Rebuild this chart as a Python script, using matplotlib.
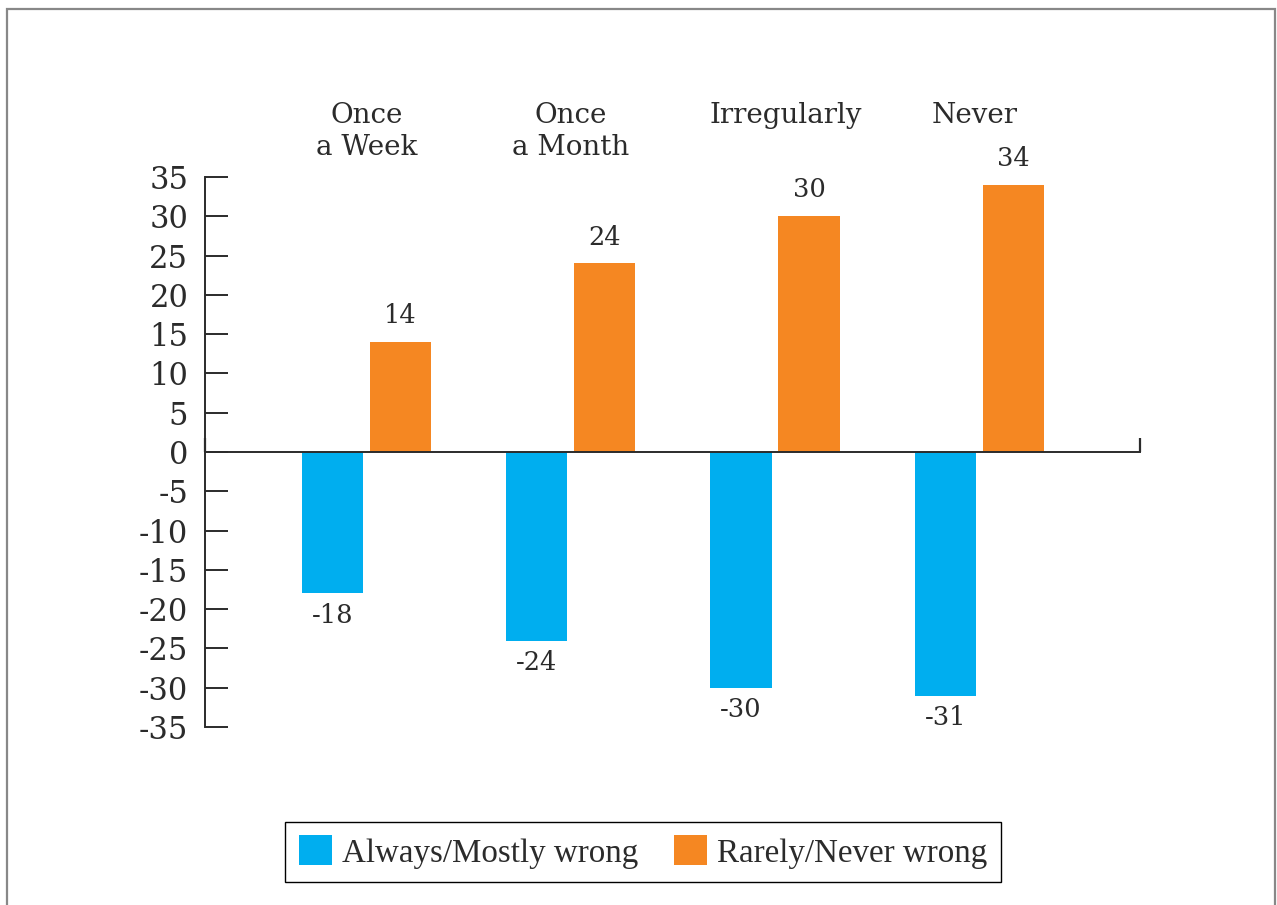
import numpy as np
import matplotlib
matplotlib.use("Agg")
import matplotlib.pyplot as plt
from matplotlib.patches import Rectangle

# Data
categories = ["Once\na Week", "Once\na Month", "Irregularly", "Never"]
always_wrong = [-18, -24, -30, -31]
rarely_wrong = [14, 24, 30, 34]
series_names = ["Always/Mostly wrong", "Rarely/Never wrong"]
y_ticks = list(range(-35, 40, 5))

blue = "#00AEEF"
orange = "#F58722"
ink = "#2b2b2b"

plt.rcParams["axes.unicode_minus"] = False
plt.rcParams["font.family"] = ["DejaVu Serif"]

fig = plt.figure(figsize=(12.77, 9.05), dpi=100)
ax = fig.add_axes([0.1605, 0.1967, 0.7322, 0.6077])

x = np.arange(len(categories))
w = 0.30
off = 0.1664
b1 = ax.bar(x - off, always_wrong, w, color=blue, label=series_names[0])
b2 = ax.bar(x + off, rarely_wrong, w, color=orange, label=series_names[1])

# value labels
for rect, v in zip(b1, always_wrong):
    ax.annotate(str(v), (rect.get_x() + rect.get_width() / 2, v),
                xytext=(0, -16), textcoords="offset points",
                ha="center", va="center", fontsize=18.5, color=ink)
for rect, v in zip(b2, rarely_wrong):
    ax.annotate(str(v), (rect.get_x() + rect.get_width() / 2, v),
                xytext=(0, 19), textcoords="offset points",
                ha="center", va="center", fontsize=18.5, color=ink)

# category labels across the top (small nudges as in the original)
label_nudge = [0.0, 0.0, 0.05, -0.025]
for i, c in enumerate(categories):
    ax.text(i + label_nudge[i], 44.6, c, ha="center", va="top", fontsize=20,
            color=ink, linespacing=1.25, clip_on=False)

ax.set_ylim(-35, 35)
ax.set_xlim(-0.79, 3.786)
ax.set_yticks(y_ticks)
ax.set_yticklabels([str(t) for t in y_ticks])
ax.tick_params(axis="y", direction="in", length=16.5, width=1.4,
               color=ink, labelsize=22, labelcolor=ink, pad=12)

# x axis sits at zero, with small upward ticks at both ends
ax.spines["bottom"].set_position(("data", 0))
ax.set_xticks([-0.79, 3.786])
ax.set_xticklabels(["", ""])
ax.tick_params(axis="x", direction="in", length=10, width=1.6, color=ink)
for s in ["top", "right"]:
    ax.spines[s].set_visible(False)
for s in ["left", "bottom"]:
    ax.spines[s].set_color(ink)
    ax.spines[s].set_linewidth(1.4)

leg = fig.legend(handles=[b1, b2], labels=series_names, loc="center",
                 bbox_to_anchor=(0.5035, 0.0586), ncol=2, fancybox=False,
                 edgecolor="black", framealpha=1, handlelength=1.0,
                 handleheight=1.0, handletextpad=0.3, columnspacing=1.1,
                 borderpad=0.4, prop={"family": "Liberation Serif", "size": 23.8})
leg.get_frame().set_linewidth(1.0)
for t in leg.get_texts():
    t.set_color(ink)

# outer grey frame
fig.patches.append(Rectangle((0.0055, -0.1), 0.993, 1.09, transform=fig.transFigure,
                             fill=False, edgecolor="#888888", linewidth=1.6))

fig.savefig("out.png", dpi=100)
